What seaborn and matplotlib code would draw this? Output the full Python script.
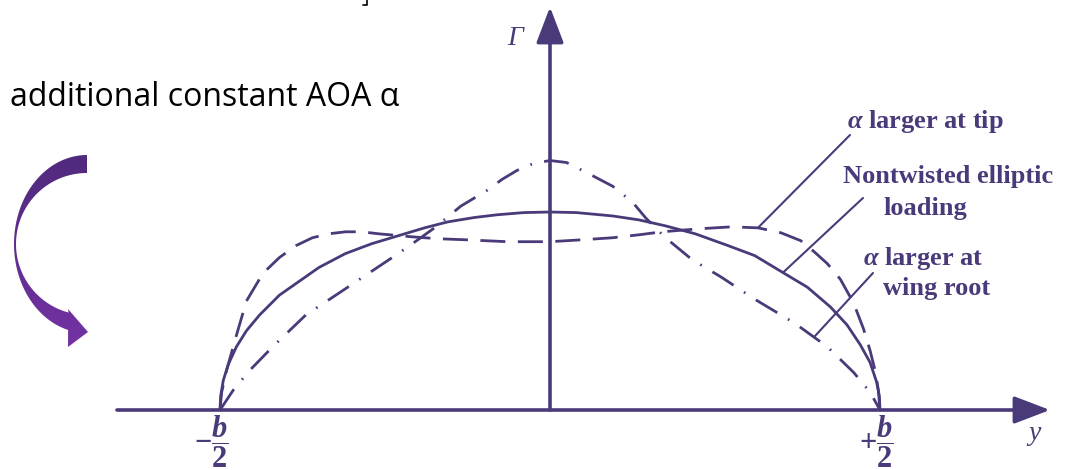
import numpy as np
import pandas as pd
import matplotlib
matplotlib.use("Agg")
import matplotlib.pyplot as plt
from matplotlib.patches import Polygon
import seaborn as sns

# Spanwise station y/(b/2) and circulation Gamma (normalised to elliptic peak)
elliptic_y = [-1.0, -0.998, -0.99, -0.975, -0.95, -0.92, -0.88, -0.82, -0.76, -0.70,
              -0.62, -0.54, -0.46, -0.38, -0.31, -0.23, -0.16, -0.08, 0.0, 0.08,
              0.19, 0.27, 0.35, 0.44, 0.54, 0.62, 0.70, 0.78, 0.85, 0.90,
              0.94, 0.97, 0.99, 0.998, 1.0]
elliptic_g = [0.0, 0.07, 0.15, 0.23, 0.32, 0.40, 0.48, 0.58, 0.65, 0.72,
              0.79, 0.84, 0.88, 0.92, 0.95, 0.972, 0.986, 0.997, 1.0, 0.997,
              0.98, 0.96, 0.93, 0.89, 0.83, 0.78, 0.70, 0.62, 0.52, 0.43,
              0.33, 0.24, 0.14, 0.07, 0.0]

tip_y = [-1.0, -0.995, -0.98, -0.955, -0.92, -0.87, -0.82, -0.77, -0.72, -0.67,
         -0.62, -0.57, -0.52, -0.42, -0.34, -0.26, -0.13, 0.0, 0.10, 0.19,
         0.27, 0.34, 0.45, 0.55, 0.63, 0.70, 0.76, 0.80, 0.84, 0.88,
         0.92, 0.95, 0.97, 0.985, 0.995, 1.0]
tip_g = [0.0, 0.09, 0.20, 0.35, 0.55, 0.69, 0.77, 0.83, 0.87, 0.89,
         0.90, 0.90, 0.89, 0.875, 0.865, 0.86, 0.85, 0.85, 0.86, 0.87,
         0.885, 0.90, 0.915, 0.925, 0.92, 0.895, 0.855, 0.80, 0.74, 0.66,
         0.54, 0.41, 0.30, 0.20, 0.10, 0.0]

root_y = [-1.0, -0.96, -0.91, -0.84, -0.74, -0.64, -0.55, -0.46, -0.40, -0.35,
          -0.31, -0.27, -0.23, -0.19, -0.145, -0.10, -0.05, 0.0, 0.05, 0.11,
          0.15, 0.19, 0.22, 0.25, 0.29, 0.35, 0.43, 0.52, 0.62, 0.74,
          0.84, 0.92, 0.97, 1.0]
root_g = [0.0, 0.10, 0.20, 0.32, 0.48, 0.59, 0.69, 0.79, 0.86, 0.92,
          0.975, 1.03, 1.07, 1.11, 1.165, 1.21, 1.245, 1.26, 1.25, 1.20,
          1.165, 1.13, 1.09, 1.05, 0.97, 0.87, 0.76, 0.67, 0.56, 0.44,
          0.32, 0.19, 0.09, 0.0]

W, H = 1071, 470
X0, SX = 550.0, 330.0     # pixel column of y=0 and pixels per half-span
Y0, SY = 410.0, 198.0     # pixel row of Gamma=0 and pixels per unit Gamma


def px(xp, yp):
    """Pixel position (from top-left) to data coordinates."""
    return (xp - X0) / SX, (Y0 - yp) / SY


INK = "#4b3a7a"

sns.set_theme(style="white")
plt.rcParams["mathtext.fontset"] = "custom"
plt.rcParams["mathtext.rm"] = "Liberation Serif:bold"
plt.rcParams["mathtext.it"] = "Liberation Serif:italic:bold"
plt.rcParams["mathtext.bf"] = "Liberation Serif:bold"

fig = plt.figure(figsize=(W / 100, H / 100), dpi=100)
ax = fig.add_axes([0, 0, 1, 1])
ax.set_axis_off()
xlim = (px(0, 0)[0], px(W, 0)[0])
ylim = (px(0, H)[1], px(0, 0)[1])

# --- coordinate axes with arrowheads ---
head = dict(arrowstyle="-|>,head_length=1.1,head_width=0.42", color=INK, lw=2.6,
            mutation_scale=20, shrinkA=0, shrinkB=0)
ax.annotate("", xy=px(1050, 410), xytext=px(117, 410), arrowprops=head)
ax.annotate("", xy=(0, px(0, 7)[1]), xytext=(0, 0), arrowprops=head)

# --- circulation distributions ---
line_kw = dict(ax=ax, color=INK, lw=2.0, sort=False, estimator=None)
sns.lineplot(x=elliptic_y, y=elliptic_g, **line_kw)
sns.lineplot(x=tip_y, y=tip_g, linestyle=(0, (9, 4.5)), **line_kw)
sns.lineplot(x=root_y, y=root_g, linestyle=(0, (9, 4.5, 0.6, 4.5)), **line_kw)

# --- labels with leader lines to their curves ---
serif = dict(family="Liberation Serif", fontweight="bold", color=INK, fontsize=19)
ax.text(*px(847, 128), r"$\alpha$ larger at tip", ha="left", va="baseline", **serif)
ax.text(*px(843, 183), "Nontwisted elliptic", ha="left", va="baseline", **serif)
ax.text(*px(883, 215), "loading", ha="left", va="baseline", **serif)
ax.text(*px(863, 265), r"$\alpha$ larger at", ha="left", va="baseline", **serif)
ax.text(*px(883, 295), "wing root", ha="left", va="baseline", **serif)

leader = dict(arrowstyle="-", color=INK, lw=1.5, shrinkA=0, shrinkB=0)
for start, (cy, cg), at in [((850, 135), (tip_y, tip_g), 0.63),
                            ((863, 198), (elliptic_y, elliptic_g), 0.706),
                            ((873, 273), (root_y, root_g), 0.80)]:
    ax.annotate("", xy=(at, np.interp(at, cy, cg)), xytext=px(*start), arrowprops=leader)

# --- axis annotations ---
ax.text(*px(515, 45), "Γ", family="Liberation Serif", style="italic", color=INK,
        fontsize=20, ha="center", va="baseline")
ax.text(*px(1035, 440), "y", family="Liberation Serif", style="italic", color=INK,
        fontsize=20, ha="center", va="baseline")
ax.text(*px(211, 442), r"$-\dfrac{b}{2}$", color=INK, fontsize=22, ha="center", va="center")
ax.text(*px(876, 442), r"$+\dfrac{b}{2}$", color=INK, fontsize=22, ha="center", va="center")

# --- caption and curved arrow ---
ax.text(*px(10, 106), "additional constant AOA α", family=["Open Sans", "DejaVu Sans"],
        color="black", fontsize=23, ha="left", va="baseline")

cx, cy = 87.0, 244.0
t = np.radians(np.linspace(90, 255, 80))
outer = [px(cx + 73 * np.cos(a), cy - 89 * np.sin(a)) for a in t]
inner = [px(cx + 71 * np.cos(a), cy - 71 * np.sin(a)) for a in t[::-1]]
head_pts = [px(68, 347), px(88, 332), px(68, 309)]
shape = Polygon(outer + head_pts + inner, closed=True, facecolor="none", edgecolor="none")
ax.add_patch(shape)
grad = np.linspace(0, 1, 256).reshape(-1, 1)
cmap = matplotlib.colors.LinearSegmentedColormap.from_list("arc", ["#7432a4", "#4f2a7c"])
x_lo, y_hi = px(10, 150)
x_hi, y_lo = px(92, 350)
img = ax.imshow(grad, cmap=cmap, extent=(x_lo, x_hi, y_lo, y_hi), origin="lower",
                aspect="auto", zorder=1)
img.set_clip_path(shape)

# bracket fragment at the top edge
bx = [px(363, 4.5)[0], px(367, 4.5)[0], px(367, -2)[0]]
by = [px(363, 4.5)[1], px(367, 4.5)[1], px(367, -2)[1]]
ax.plot(bx, by, color="black", lw=1.2)

ax.set_xlim(*xlim)
ax.set_ylim(*ylim)
fig.savefig("out.png", dpi=100)
